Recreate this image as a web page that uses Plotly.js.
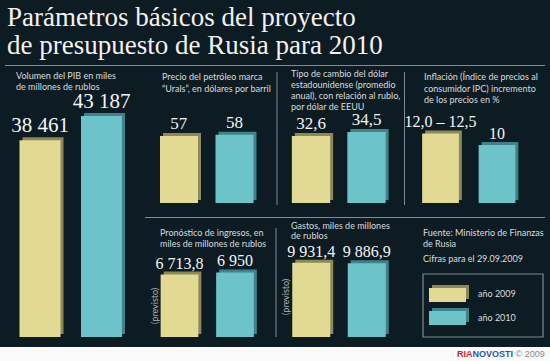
<!DOCTYPE html>
<html><head><meta charset="utf-8">
<script src="https://cdn.plot.ly/plotly-3.0.1.min.js"></script>
<style>html,body{margin:0;padding:0;background:#0d1b23;overflow:hidden}</style>
</head><body><div id="chart" style="width:550px;height:361px"></div>
<script>
// ---- data ----
const years = ['2009', '2010'];
const pib = [38461, 43187];
const urals = [57, 58];
const cambio = [32.6, 34.5];
const inflacion = [12.0, 10];
const ingresos = [6713.8, 6950];
const gastos = [9931.4, 9886.9];
const pibLabels = ['38 461', '43 187'];
const uralsLabels = ['57', '58'];
const cambioLabels = ['32,6', '34,5'];
const inflacionLabels = ['12,0 – 12,5', '10'];
const ingresosLabels = ['6 713,8', '6 950'];
const gastosLabels = ['9 931,4', '9 886,9'];
const legendLabels = ['año 2009', 'año 2010'];
const panelTitles = [
  ['Volumen del PIB en miles', 'de millones de rublos'],
  ['Precio del petróleo marca', '“Urals”, en dólares por barril'],
  ['Tipo de cambio del dólar', 'estadounidense (promedio', 'anual), con relación al rublo,', 'por dólar de EEUU'],
  ['Inflación (Índice de precios al', 'consumidor IPC) incremento', 'de los precios en %'],
  ['Pronóstico de ingresos, en', 'miles de millones de rublos'],
  ['Gastos, miles de millones', 'de rublos']
];
const titleLines = ['Parámetros básicos del proyecto', 'de presupuesto de Rusia para 2010'];
const sourceLines = ['Fuente: Ministerio de Finanzas', 'de Rusia', 'Cifras para el 29.09.2009'];
const forecastText = '(previsto)';

// ---- styling / geometry ----
const W = 550, H = 361;
const fx = p => p / W;
const fy = p => 1 - p / H;
const faceColors = ['#e2da92', '#6cc4ca'];
const sideColors = ['#8d8858', '#3e8389'];
const bg = '#0d1b23';
const lineCol = '#7f8c91';
const textCol = '#d9dddd';
const sans = 'Lato, "Open Sans", sans-serif';
const serif = '"Liberation Serif", "DejaVu Serif", serif';

const panels = [
  {vals: pib, labels: pibLabels, x: [9.25, 132.25], y: [100, 337], ymax: 46300, w: 0.667, font: 21, tx: 15, ty: [75.7, 86.7]},
  {vals: urals, labels: uralsLabels, x: [151.25, 262.25], y: [100, 203], ymax: 87.6, w: 0.685, font: 17, tx: 161, ty: [77, 88.5]},
  {vals: cambio, labels: cambioLabels, x: [283.25, 394.25], y: [100, 203], ymax: 50.1, w: 0.69, font: 17, tx: 290, ty: [73.3, 84.2, 95.1, 106]},
  {vals: inflacion, labels: inflacionLabels, x: [412.25, 525.25], y: [100, 203], ymax: 17.76, w: 0.65, font: 16, tx: 423, ty: [76.7, 88, 99.2]},
  {vals: ingresos, labels: ingresosLabels, x: [151.75, 262.75], y: [240, 337], ymax: 10435, w: 0.68, font: 16, tx: 159, ty: [232.7, 243.3]},
  {vals: gastos, labels: gastosLabels, x: [283.5, 394.5], y: [240, 337], ymax: 12989, w: 0.685, font: 16, tx: 290, ty: [225, 235.7]}
];

const traces = [];
const layout = {
  width: W, height: H,
  margin: {l: 0, r: 0, t: 0, b: 0, pad: 0},
  paper_bgcolor: bg, plot_bgcolor: 'rgba(0,0,0,0)',
  showlegend: false, barmode: 'overlay',
  separators: ', ',
  annotations: [], shapes: []
};
const label = (px, py, text, opts) => Object.assign({
  xref: 'paper', yref: 'paper', x: fx(px), y: fy(py), xanchor: 'left', yanchor: 'middle',
  align: 'left', showarrow: false, borderpad: 0, text: text,
  font: {family: sans, size: 9, color: textCol}
}, opts || {});

panels.forEach((p, i) => {
  const n = i === 0 ? '' : String(i + 1);
  const xa = 'x' + n, ya = 'y' + n;
  const unitX = (p.x[1] - p.x[0]) / 2;
  const dx = 3 / unitX;
  const dy = 3 * p.ymax / (p.y[1] - p.y[0]);
  traces.push({
    type: 'bar', x: years, y: p.vals, base: p.vals.map(() => dy),
    width: p.w, offset: -p.w / 2 + dx,
    marker: {color: sideColors, line: {width: 0}},
    xaxis: xa, yaxis: ya, hoverinfo: 'skip'
  });
  traces.push({
    type: 'bar', x: years, y: p.vals, name: 'panel' + (i + 1),
    width: p.w, offset: -p.w / 2,
    marker: {color: faceColors, line: {width: 0}},
    text: p.labels, textposition: 'outside', constraintext: 'none', cliponaxis: false,
    textfont: {family: serif, size: p.font, color: '#f5f5f5'},
    xaxis: xa, yaxis: ya, hoverinfo: 'skip'
  });
  layout['xaxis' + n] = {domain: [fx(p.x[0]), fx(p.x[1])], range: [-0.5, 1.5], type: 'category',
    visible: false, fixedrange: true, anchor: ya};
  layout['yaxis' + n] = {domain: [fy(p.y[1]), fy(p.y[0])], range: [0, p.ymax],
    visible: false, fixedrange: true, anchor: xa};
  panelTitles[i].forEach((t, j) => layout.annotations.push(label(p.tx, p.ty[j], t)));
});

// title
layout.annotations.push(
  label(6, 16.5, titleLines[0], {font: {family: serif, size: 27, color: '#f2f2f2'}}),
  label(6, 44.5, titleLines[1], {font: {family: serif, size: 27, color: '#f2f2f2'}})
);
// source, date
[232.3, 243.3, 258.3].forEach((py, j) => layout.annotations.push(label(422, py, sourceLines[j])));
// previsto
[[154, 306], [285, 297]].forEach(([px, py]) => layout.annotations.push(label(px, py, forecastText,
  {xanchor: 'center', textangle: -90, font: {family: sans, size: 9, color: '#aab3b6'}})));
// legend labels
[293, 317].forEach((py, i) => layout.annotations.push(label(477, py, legendLabels[i])));
// RIA Novosti
layout.annotations.push(label(546, 354,
  '<b><span style="color:#d2232a">RIA</span><span style="color:#1e5aa6">NOVOSTI</span></b> <span style="color:#8a8a8a">© 2009</span>',
  {xanchor: 'right', font: {family: '"Liberation Sans", sans-serif', size: 9, color: '#8a8a8a'}}));

// shapes
const line = (x0, y0, x1, y1) => ({type: 'line', xref: 'paper', yref: 'paper', x0: fx(x0), y0: fy(y0), x1: fx(x1), y1: fy(y1),
  line: {color: lineCol, width: 1}});
layout.shapes.push(
  {type: 'rect', xref: 'paper', yref: 'paper', x0: 0, x1: 1, y0: 0, y1: fy(347), fillcolor: '#fbfbfb', line: {width: 0}, layer: 'below'},
  line(5, 65.5, 545, 65.5),
  line(145, 217.5, 545, 217.5),
  line(277, 72, 277, 205),
  line(404.5, 72, 404.5, 205),
  line(276, 228, 276, 337),
  {type: 'rect', xref: 'paper', yref: 'paper', x0: fx(423), x1: fx(543), y0: fy(337), y1: fy(274), line: {color: lineCol, width: 1.2}}
);
[[288, 302], [311, 325]].forEach(([t, b], i) => {
  layout.shapes.push(
    {type: 'rect', xref: 'paper', yref: 'paper', x0: fx(432), x1: fx(469), y0: fy(b - 3), y1: fy(t - 3), fillcolor: sideColors[i], line: {width: 0}},
    {type: 'rect', xref: 'paper', yref: 'paper', x0: fx(429), x1: fx(466), y0: fy(b), y1: fy(t), fillcolor: faceColors[i], line: {width: 0}}
  );
});

Plotly.newPlot('chart', traces, layout, {staticPlot: true, displayModeBar: false});
</script>
</body></html>
